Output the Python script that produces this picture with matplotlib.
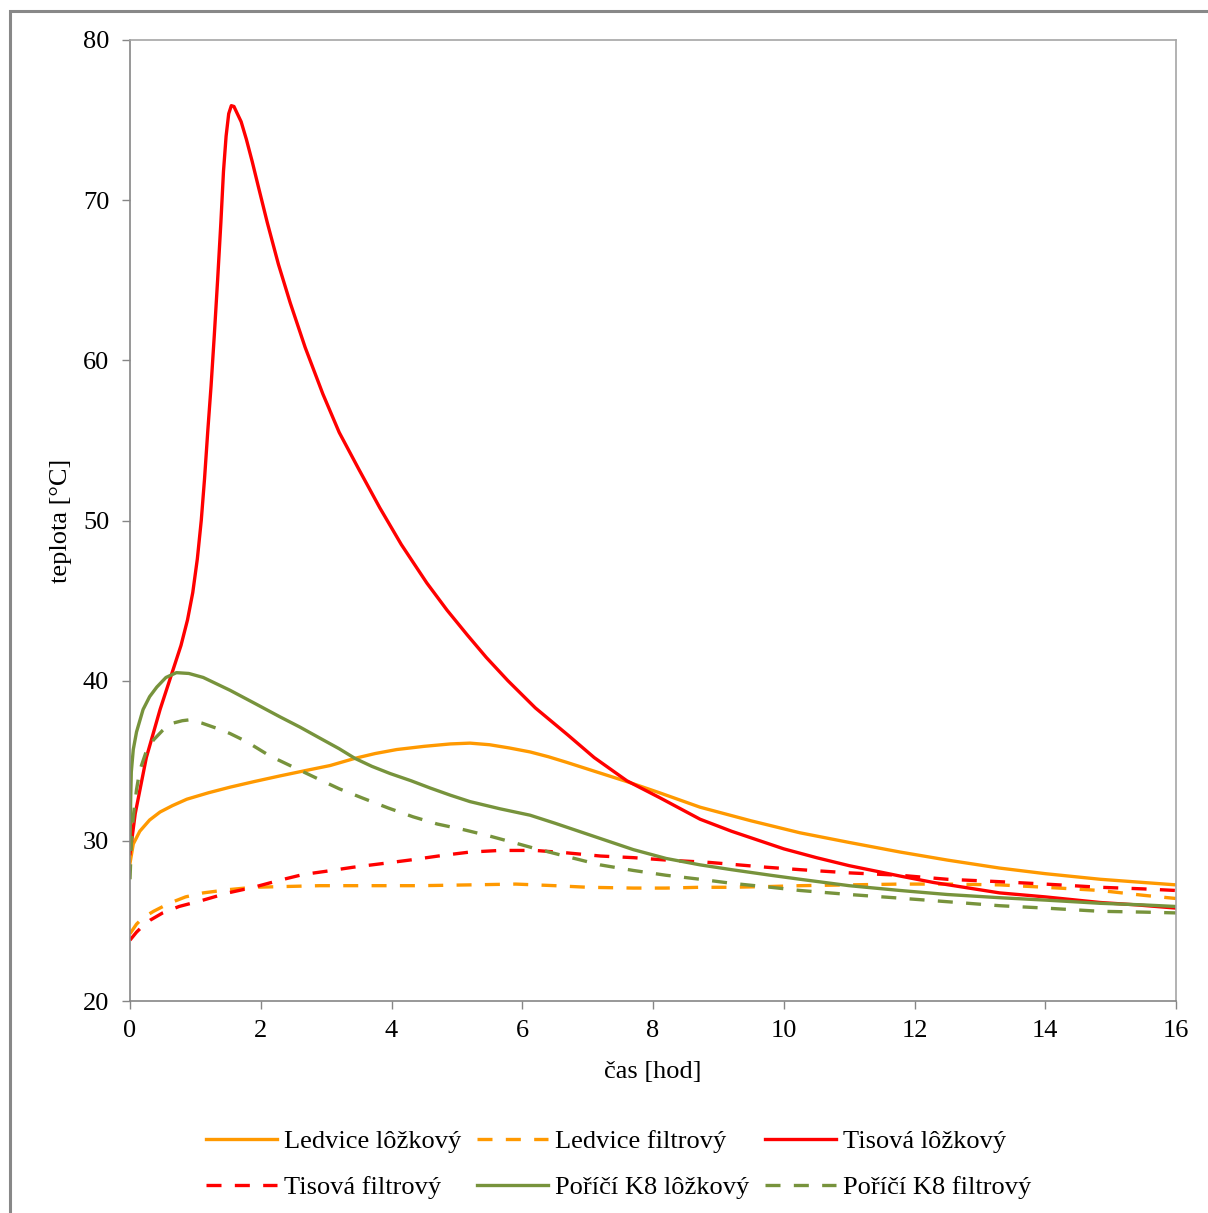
import matplotlib
matplotlib.use('Agg')
import matplotlib.pyplot as plt
from matplotlib.patches import Rectangle

plt.rcParams['font.family'] = 'Liberation Serif'

# Ledvice lôžkový
t_led_loz = [0, 0.05, 0.15, 0.3, 0.46, 0.65, 0.87, 1.2, 1.53, 1.9, 2.29, 2.7, 3.06, 3.44, 3.75, 4.08,
             4.5, 4.9, 5.2, 5.5, 5.8, 6.12, 6.4, 6.68, 7.1, 7.6, 8.1, 8.72, 9.5, 10.25, 11.0, 11.78,
             12.5, 13.3, 14.0, 14.84, 15.5, 16.0]
T_led_loz = [28.6, 29.8, 30.6, 31.3, 31.8, 32.2, 32.6, 33.0, 33.35, 33.7, 34.05, 34.4, 34.7, 35.15, 35.45, 35.7,
             35.9, 36.05, 36.1, 36.0, 35.8, 35.55, 35.25, 34.9, 34.35, 33.7, 33.0, 32.1, 31.25, 30.5, 29.9, 29.3,
             28.8, 28.3, 27.95, 27.6, 27.4, 27.25]

# Ledvice filtrový
t_led_fil = [0, 0.1, 0.2, 0.36, 0.6, 0.85, 1.12, 1.5, 1.89, 2.4, 2.9, 3.6, 4.44, 5.2, 5.9, 6.5, 7.0,
             7.7, 8.2, 8.72, 9.2, 9.8, 10.25, 11.0, 11.78, 12.5, 13.3, 14.0, 14.84, 15.5, 16.0]
T_led_fil = [24.2, 24.8, 25.2, 25.6, 26.1, 26.5, 26.75, 26.95, 27.1, 27.15, 27.2, 27.2, 27.2, 27.25, 27.3, 27.2, 27.1,
             27.05, 27.05, 27.1, 27.1, 27.15, 27.2, 27.25, 27.3, 27.3, 27.25, 27.1, 26.9, 26.6, 26.4]

# Tisová lôžkový
t_tis_loz = [0, 0.08, 0.25, 0.46, 0.62, 0.78, 0.88, 0.96, 1.03, 1.09, 1.14, 1.19, 1.24, 1.29, 1.34,
             1.39, 1.43, 1.47, 1.51, 1.55, 1.59, 1.63, 1.70, 1.78, 1.87, 1.96, 2.1, 2.27, 2.45, 2.68,
             2.95, 3.2, 3.5, 3.82, 4.15, 4.54, 4.85, 5.16, 5.45, 5.78, 6.2, 6.7, 7.1, 7.6, 8.1, 8.72,
             9.2, 9.6, 10.0, 10.5, 11.0, 11.78, 12.29, 13.3, 14.0, 14.84, 15.4, 16.0]
T_tis_loz = [29.2, 31.7, 35.2, 38.2, 40.2, 42.2, 43.8, 45.5, 47.6, 50.0, 52.6, 55.6, 58.4, 61.6, 65.0,
             68.6, 71.8, 74.0, 75.4, 75.9, 75.85, 75.5, 74.9, 73.8, 72.4, 70.9, 68.6, 66.0, 63.6, 60.8,
             57.9, 55.5, 53.2, 50.8, 48.5, 46.1, 44.4, 42.85, 41.45, 40.0, 38.3, 36.6, 35.2, 33.75, 32.7, 31.35,
             30.6, 30.05, 29.5, 28.95, 28.45, 27.8, 27.4, 26.75, 26.5, 26.15, 26.0, 25.8]

# Tisová filtrový
t_tis_fil = [0, 0.1, 0.2, 0.31, 0.5, 0.75, 1.12, 1.5, 1.89, 2.3, 2.65, 3.0, 3.41, 3.9, 4.28, 4.8,
             5.2, 5.66, 6.2, 6.68, 7.2, 7.7, 8.2, 8.87, 9.74, 10.25, 11.0, 11.78, 12.5, 13.3, 14.0,
             14.84, 15.5, 16.0]
T_tis_fil = [23.8, 24.3, 24.7, 25.05, 25.5, 25.9, 26.3, 26.75, 27.1, 27.55, 27.9, 28.1, 28.35, 28.6, 28.8, 29.1,
             29.3, 29.4, 29.4, 29.25, 29.05, 28.95, 28.8, 28.65, 28.35, 28.2, 28.0, 27.85, 27.6, 27.45, 27.3,
             27.1, 27.0, 26.9]

# Poříčí K8 lôžkový
t_por_loz = [0, 0.01, 0.02, 0.05, 0.1, 0.2, 0.3, 0.41, 0.55, 0.71, 0.9, 1.12, 1.53, 1.9, 2.29, 2.6,
             2.91, 3.2, 3.44, 3.7, 3.98, 4.3, 4.59, 4.9, 5.2, 5.66, 6.12, 6.5, 6.9, 7.3, 7.7, 8.2,
             8.72, 9.2, 9.8, 10.25, 11.0, 11.78, 12.5, 13.3, 14.0, 14.84, 15.5, 16.0]
T_por_loz = [29.5, 32.5, 34.3, 35.7, 36.8, 38.2, 39.0, 39.6, 40.2, 40.5, 40.45, 40.2, 39.4, 38.6, 37.75, 37.1,
             36.4, 35.75, 35.15, 34.65, 34.2, 33.75, 33.3, 32.85, 32.45, 32.0, 31.6, 31.1, 30.55, 30.0, 29.45, 28.9,
             28.5, 28.2, 27.85, 27.6, 27.2, 26.9, 26.65, 26.45, 26.3, 26.1, 26.0, 25.9]

# Poříčí K8 filtrový
t_por_fil = [0, 0.02, 0.05, 0.1, 0.15, 0.25, 0.36, 0.5, 0.61, 0.8, 0.9, 1.1, 1.38, 1.53, 1.78, 2.14,
             2.5, 2.86, 3.2, 3.57, 3.95, 4.33, 4.7, 5.1, 5.5, 5.86, 6.17, 6.7, 7.19, 7.7, 8.2, 8.72,
             9.2, 9.8, 10.25, 11.0, 11.68, 12.5, 13.3, 14.0, 14.84, 15.5, 16.0]
T_por_fil = [27.6, 29.8, 31.5, 33.2, 34.4, 35.6, 36.3, 36.9, 37.3, 37.5, 37.55, 37.35, 36.95, 36.7, 36.2, 35.3,
             34.6, 33.9, 33.25, 32.65, 32.05, 31.5, 31.05, 30.7, 30.3, 29.9, 29.55, 29.0, 28.5, 28.15, 27.85, 27.6,
             27.35, 27.1, 26.9, 26.65, 26.45, 26.2, 25.95, 25.8, 25.6, 25.55, 25.5]

c_orange = '#FF9900'
c_red = '#FF0000'
c_green = '#77933C'
lw = 2.4
dash = (0, (4.5, 4))
fs = 19

W, H = 1208, 1213
fig = plt.figure(figsize=(W / 100, H / 100), dpi=100)
ax = fig.add_axes([130 / W, 1 - 1001 / H, (1176 - 130) / W, (1001 - 40) / H])

# outer frame of the chart area
fig.patches.append(Rectangle((9.5 / W, -0.1), 1.2, 1 - 11.5 / H + 0.1, transform=fig.transFigure,
                             fill=False, edgecolor='#888888', linewidth=2.2, clip_on=False))

l1, = ax.plot(t_led_loz, T_led_loz, color=c_orange, lw=lw, label='Ledvice lôžkový')
l2, = ax.plot(t_led_fil, T_led_fil, color=c_orange, lw=lw, ls=dash, label='Ledvice filtrový')
l3, = ax.plot(t_tis_loz, T_tis_loz, color=c_red, lw=lw, label='Tisová lôžkový')
l4, = ax.plot(t_tis_fil, T_tis_fil, color=c_red, lw=lw, ls=dash, label='Tisová filtrový')
l5, = ax.plot(t_por_loz, T_por_loz, color=c_green, lw=lw, label='Poříčí K8 lôžkový')
l6, = ax.plot(t_por_fil, T_por_fil, color=c_green, lw=lw, ls=dash, label='Poříčí K8 filtrový')

ax.set_xlim(0, 16)
ax.set_ylim(20, 80)
ax.set_xticks(range(0, 17, 2))
ax.set_yticks(range(20, 81, 10))
ax.tick_params(axis='both', direction='out', length=6, width=1, color='#868686', labelsize=fs)
ax.tick_params(axis='x', pad=8)
ax.tick_params(axis='y', pad=9)
for s in ['left', 'bottom']:
    ax.spines[s].set_color('#868686')
for s in ['top', 'right']:
    ax.spines[s].set_color('#A6A6A6')
for s in ax.spines.values():
    s.set_linewidth(1.2)

ax.set_xlabel('čas [hod]', fontsize=fs, labelpad=13)
ax.set_ylabel('teplota [°C]', fontsize=fs, labelpad=8)

# legend below the plot, filled row by row
handles = [l1, l4, l2, l5, l3, l6]
fig.legend(handles=handles, labels=[h.get_label() for h in handles], ncol=3, loc='center',
           bbox_to_anchor=(0.512, 1 - 1164.5 / H), frameon=False, fontsize=fs,
           handlelength=2.7, handletextpad=0.25, columnspacing=0.6, labelspacing=0.85)

fig.savefig('out.png', dpi=100)
